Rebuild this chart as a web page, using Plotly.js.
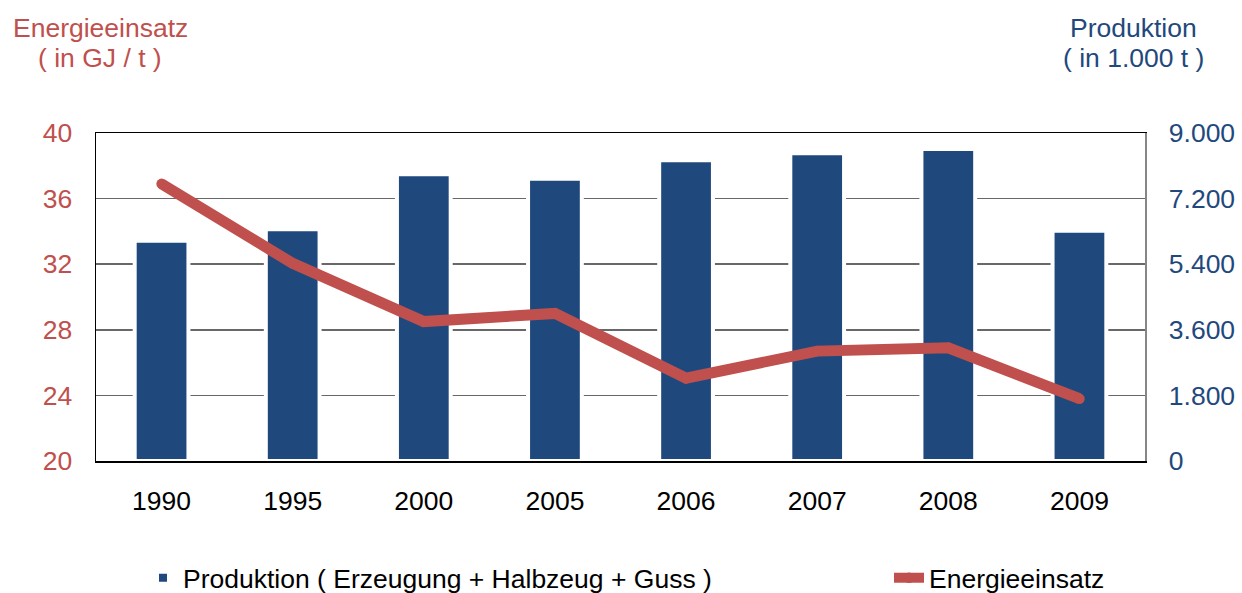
<!DOCTYPE html>
<html>
<head>
<meta charset="utf-8">
<script src="https://cdn.plot.ly/plotly-3.0.1.min.js"></script>
<style>html,body{margin:0;padding:0;background:#fff;}#chart{width:1242px;height:593px;}</style>
</head>
<body>
<div id="chart"></div>
<script>
const years = ["1990", "1995", "2000", "2005", "2006", "2007", "2008", "2009"];
const produktion = [6045, 6357, 7866, 7746, 8250, 8442, 8561, 6319];
const energie = [36.9, 32.05, 28.5, 29.0, 25.05, 26.7, 26.9, 23.8];
const leftTicks = [20, 24, 28, 32, 36, 40];
const rightTicks = [0, 1800, 3600, 5400, 7200, 9000];

const RED = "#C0504D";
const BLUE = "#1F497D";
const FONT = "Liberation Sans, Arial, sans-serif";
const FS = 26.5;

const PL = 96, PR = 1145, PT = 133, PB = 461;
const PW = PR - PL, PH = PB - PT;
const px = v => (v - PL) / PW;
const py = v => (PB - v) / PH;

const traces = [
  {
    type: "bar",
    name: "Produktion ( Erzeugung + Halbzeug + Guss )",
    x: years,
    y: produktion,
    yaxis: "y",
    legend: "legend",
    marker: {color: BLUE, line: {color: "#ffffff", width: 4}},
    hoverinfo: "x+y"
  },
  {
    type: "scatter",
    mode: "lines+markers",
    name: "Energieeinsatz",
    x: years,
    y: energie,
    yaxis: "y2",
    legend: "legend2",
    line: {color: RED, width: 11, simplify: false},
    marker: {color: RED, size: 10.5, symbol: "circle", line: {width: 0}}
  }
];

const legendBase = {
  orientation: "h",
  xanchor: "left",
  yanchor: "middle",
  font: {family: FONT, size: FS, color: "#000"},
  bgcolor: "rgba(0,0,0,0)"
};

const layout = {
  width: 1242,
  height: 593,
  margin: {l: PL, r: 1242 - PR, t: PT, b: 593 - PB, pad: 0, autoexpand: false},
  paper_bgcolor: "#ffffff",
  plot_bgcolor: "#ffffff",
  separators: ",.",
  font: {family: FONT, size: FS, color: "#000"},
  bargap: 0.59,
  showlegend: true,
  legend: Object.assign({}, legendBase, {x: px(143), y: py(578)}),
  legend2: Object.assign({}, legendBase, {x: px(889), y: py(578)}),
  xaxis: {
    type: "category",
    showline: true,
    linecolor: "#000000",
    linewidth: 1.5,
    mirror: true,
    ticks: "",
    showgrid: false,
    tickfont: {family: FONT, size: FS, color: "#000"},
    ticklabelstandoff: 16,
    fixedrange: true
  },
  yaxis: {
    side: "right",
    range: [0, 9000],
    tickvals: rightTicks,
    tickformat: ",d",
    showline: true,
    linecolor: "#868686",
    linewidth: 1.5,
    ticks: "",
    showgrid: true,
    gridcolor: "#686868",
    gridwidth: 1.6,
    zeroline: false,
    tickfont: {family: FONT, size: FS, color: BLUE},
    ticklabelstandoff: 17,
    fixedrange: true
  },
  yaxis2: {
    overlaying: "y",
    side: "left",
    range: [20, 40],
    tickvals: leftTicks,
    showline: true,
    linecolor: "#000000",
    linewidth: 1.5,
    ticks: "",
    showgrid: false,
    zeroline: false,
    tickfont: {family: FONT, size: FS, color: RED},
    ticklabelstandoff: 17,
    fixedrange: true
  },
  annotations: [
    {text: "Energieeinsatz", xref: "paper", yref: "paper", x: px(100), y: py(28),
     xanchor: "center", yanchor: "middle", showarrow: false, font: {family: FONT, size: FS, color: RED}},
    {text: "( in GJ / t )", xref: "paper", yref: "paper", x: px(100), y: py(58),
     xanchor: "center", yanchor: "middle", showarrow: false, font: {family: FONT, size: FS, color: RED}},
    {text: "Produktion", xref: "paper", yref: "paper", x: px(1133), y: py(28),
     xanchor: "center", yanchor: "middle", showarrow: false, font: {family: FONT, size: FS, color: BLUE}},
    {text: "( in 1.000 t )", xref: "paper", yref: "paper", x: px(1133), y: py(58),
     xanchor: "center", yanchor: "middle", showarrow: false, font: {family: FONT, size: FS, color: BLUE}}
  ]
};

Plotly.newPlot("chart", traces, layout, {displayModeBar: false, staticPlot: true});
</script>
</body>
</html>
